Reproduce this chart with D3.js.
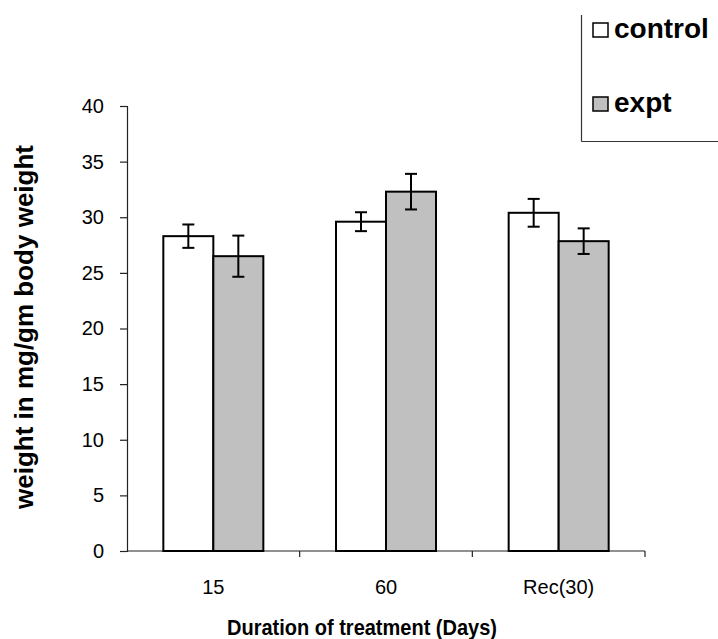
<!DOCTYPE html>
<html>
<head>
<meta charset="utf-8">
<script src="https://cdn.jsdelivr.net/npm/d3@7"></script>
<style>
  body { margin: 0; background: #fff; }
  text { font-family: Arial, "Liberation Sans", sans-serif; }
</style>
</head>
<body>
<script>
var categories = ['15', '60', 'Rec(30)'];
var seriesNames = ['control', 'expt'];
var controlValues = [28.3, 29.6, 30.4];
var controlErrors = [1.05, 0.85, 1.25];
var exptValues = [26.5, 32.3, 27.85];
var exptErrors = [1.85, 1.6, 1.15];
var yTicks = [0, 5, 10, 15, 20, 25, 30, 35, 40];

var colorFill = { control: '#ffffff', expt: '#c0c0c0' };

var width = 718, height = 639;
var margin = { left: 127, right: 73, top: 106, bottom: 88 };

var svg = d3.select('body')
    .append('svg')
    .attr('width', width)
    .attr('height', height);

var x = d3.scaleBand()
    .domain(categories)
    .range([margin.left, width - margin.right])
    .paddingInner(0)
    .paddingOuter(0);

var xInner = d3.scaleBand()
    .domain(seriesNames)
    .range([x.bandwidth() / 2 - 50, x.bandwidth() / 2 + 50]);

var y = d3.scaleLinear()
    .domain([0, 40])
    .range([height - margin.bottom, margin.top]);

// rows for drawing
var rows = [];
categories.forEach(function (c, i) {
    rows.push({ cat: c, series: 'control', value: controlValues[i], err: controlErrors[i] });
    rows.push({ cat: c, series: 'expt', value: exptValues[i], err: exptErrors[i] });
});

// Y axis
var yAxis = svg.append('g')
    .attr('transform', 'translate(' + margin.left + ',0)')
    .call(d3.axisLeft(y).tickValues(yTicks).tickSize(7).tickPadding(16));
yAxis.selectAll('path, line').attr('stroke', '#222').attr('stroke-width', 1.2);
yAxis.selectAll('text').attr('font-size', '20px').attr('fill', '#000');

// X axis with ticks at band boundaries
var xAxisG = svg.append('g')
    .attr('transform', 'translate(0,' + y(0) + ')');
xAxisG.append('line')
    .attr('x1', x.range()[0]).attr('x2', x.range()[1])
    .attr('stroke', '#222').attr('stroke-width', 1.2);
var boundaries = categories.map(function (c) { return x(c) + x.bandwidth(); });
xAxisG.selectAll('.bt').data(boundaries).enter().append('line')
    .attr('x1', function (d) { return d; })
    .attr('x2', function (d) { return d; })
    .attr('y1', 0).attr('y2', 6)
    .attr('stroke', '#222').attr('stroke-width', 1.2);
xAxisG.selectAll('.lbl').data(categories).enter().append('text')
    .attr('x', function (d) { return x(d) + x.bandwidth() / 2; })
    .attr('y', 43)
    .attr('text-anchor', 'middle')
    .attr('font-size', '20px')
    .text(function (d) { return d; });

// Bars
svg.selectAll('.bar').data(rows).enter().append('rect')
    .attr('x', function (d) { return x(d.cat) + xInner(d.series); })
    .attr('y', function (d) { return y(d.value); })
    .attr('width', xInner.bandwidth())
    .attr('height', function (d) { return y(0) - y(d.value); })
    .attr('fill', function (d) { return colorFill[d.series]; })
    .attr('stroke', '#000')
    .attr('stroke-width', 2);

// Error bars
var eb = svg.selectAll('.err').data(rows).enter().append('g')
    .attr('stroke', '#000')
    .attr('stroke-width', 2);
eb.append('line')
    .attr('x1', function (d) { return x(d.cat) + xInner(d.series) + xInner.bandwidth() / 2; })
    .attr('x2', function (d) { return x(d.cat) + xInner(d.series) + xInner.bandwidth() / 2; })
    .attr('y1', function (d) { return y(d.value + d.err); })
    .attr('y2', function (d) { return y(d.value - d.err); });
eb.selectAll('.cap').data(function (d) {
        return [{ d: d, v: d.value + d.err }, { d: d, v: d.value - d.err }];
    }).enter().append('line')
    .attr('x1', function (e) { return x(e.d.cat) + xInner(e.d.series) + xInner.bandwidth() / 2 - 6; })
    .attr('x2', function (e) { return x(e.d.cat) + xInner(e.d.series) + xInner.bandwidth() / 2 + 6; })
    .attr('y1', function (e) { return y(e.v); })
    .attr('y2', function (e) { return y(e.v); });

// Axis titles
svg.append('text')
    .attr('x', 362)
    .attr('y', 635)
    .attr('text-anchor', 'middle')
    .attr('font-size', '22px')
    .attr('font-weight', 'bold')
    .attr('textLength', 270)
    .attr('lengthAdjust', 'spacingAndGlyphs')
    .text('Duration of treatment (Days)');

svg.append('text')
    .attr('transform', 'translate(33,327) rotate(-90)')
    .attr('text-anchor', 'middle')
    .attr('font-size', '26px')
    .attr('font-weight', 'bold')
    .text('weight in mg/gm body weight');

// Legend
var lg = svg.append('g');
lg.append('line')
    .attr('x1', 581.5).attr('x2', 581.5).attr('y1', 15).attr('y2', 141.5)
    .attr('stroke', '#333').attr('stroke-width', 1.2);
lg.append('line')
    .attr('x1', 581.5).attr('x2', width).attr('y1', 141.5).attr('y2', 141.5)
    .attr('stroke', '#333').attr('stroke-width', 1.2);
var legendY = d3.scalePoint().domain(seriesNames).range([30, 104]);
var item = lg.selectAll('.li').data(seriesNames).enter().append('g')
    .attr('transform', function (d) { return 'translate(593,' + legendY(d) + ')'; });
item.append('rect')
    .attr('x', 0).attr('y', -7)
    .attr('width', 15).attr('height', 14)
    .attr('fill', function (d) { return colorFill[d]; })
    .attr('stroke', '#000')
    .attr('stroke-width', 1.5);
item.append('text')
    .attr('x', 21).attr('y', 8)
    .attr('font-size', '28px')
    .attr('font-weight', 'bold')
    .text(function (d) { return d; });
</script>
</body>
</html>
